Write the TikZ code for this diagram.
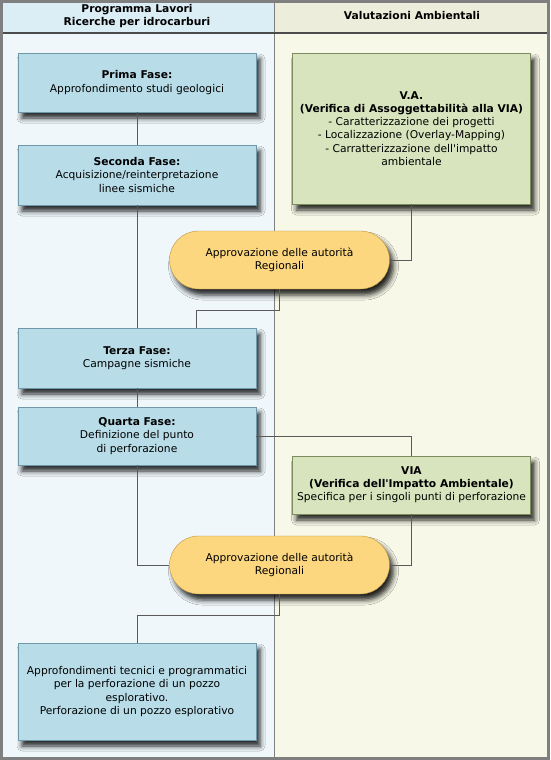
\documentclass[tikz,border=0pt]{standalone}
\usepackage{fontspec}
\setmainfont{DejaVu Sans}
\usetikzlibrary{shapes.misc,shadows.blur}

\definecolor{cornice}{HTML}{7F7F7F}
\definecolor{testasx}{HTML}{DBEEF6}
\definecolor{testadx}{HTML}{ECEEDB}
\definecolor{fondosx}{HTML}{EFF7FB}
\definecolor{fondodx}{HTML}{F7F8E8}
\definecolor{faseblu}{HTML}{B8DDE9}
\definecolor{bordoblu}{HTML}{6F98AB}
\definecolor{verde}{HTML}{D8E4BD}
\definecolor{bordoverde}{HTML}{7C8C5E}
\definecolor{giallo}{HTML}{FCD780}
\definecolor{bordogiallo}{HTML}{B89640}
\definecolor{linea}{HTML}{5A5A5A}

\begin{document}
\begin{tikzpicture}[x=1pt,y=-1pt,
  testo/.style={font=\fontsize{10.7}{13.2}\selectfont,align=center,inner sep=0pt},
  ombra/.style={blur shadow={shadow xshift=4pt,shadow yshift=-6pt,shadow blur radius=5pt,shadow opacity=85}},
  fase/.style={testo,ombra,draw=bordoblu,fill=faseblu,minimum width=238pt},
  va/.style={testo,ombra,draw=bordoverde,fill=verde,minimum width=238pt},
  approvazione/.style={testo,ombra,rounded rectangle,draw=bordogiallo,fill=giallo,minimum width=220pt,minimum height=58pt},
  freccia/.style={draw=linea,line width=0.8pt}]
\useasboundingbox (0,0) rectangle (550,760);
\fill[fondosx] (0,33) rectangle (274,760);
\fill[fondodx] (274,33) rectangle (550,760);
\fill[testasx] (0,0) rectangle (274,33);
\fill[testadx] (274,0) rectangle (550,33);
\draw[cornice,line width=0.8pt] (274,0) -- (274,760);
\draw[cornice!60!black,line width=1.2pt] (0,33) -- (550,33);
\draw[cornice,line width=3pt] (1.5,1.5) rectangle (548.5,758.5);

\node[testo] (lavori) at (137,16) {\textbf{Programma Lavori}\\\textbf{Ricerche per idrocarburi}};
\node[testo] (ambiente) at (412,16) {\textbf{Valutazioni Ambientali}};

\node[fase,minimum height=59pt] (prima) at (137,82.5) {\textbf{Prima Fase:}\\Approfondimento studi geologici};
\node[fase,minimum height=60pt] (seconda) at (137,175) {\textbf{Seconda Fase:}\\Acquisizione/reinterpretazione\\linee sismiche};
\node[va,minimum height=151pt] (va) at (411.5,128.5) {\textbf{V.A.}\\\textbf{(Verifica di Assoggettabilità alla VIA)}\\- Caratterizzazione dei progetti\\- Localizzazione (Overlay-Mapping)\\- Carratterizzazione dell\textquotesingle impatto\\ambientale};
\node[approvazione] (appr1) at (279.5,260) {Approvazione delle autorità\\Regionali};
\node[fase,minimum height=60pt] (terza) at (137,358) {\textbf{Terza Fase:}\\Campagne sismiche};
\node[fase,minimum height=58pt] (quarta) at (137,436) {\textbf{Quarta Fase:}\\Definizione del punto\\di perforazione};
\node[va,minimum height=58pt] (via) at (411.5,485) {\textbf{VIA}\\\textbf{(Verifica dell\textquotesingle Impatto Ambientale)}\\Specifica per i singoli punti di perforazione};
\node[approvazione] (appr2) at (279.5,565) {Approvazione delle autorità\\Regionali};
\node[fase,minimum height=97pt] (pozzo) at (137,691.5) {Approfondimenti tecnici e programmatici\\per la perforazione di un pozzo\\esplorativo.\\ Perforazione di un pozzo esplorativo};

\coordinate (gomito1) at (196,310);
\coordinate (gomito2) at (137,615);

\draw[freccia] (prima) -- (seconda);
\draw[freccia] (seconda) -- (terza);
\draw[freccia] (terza) -- (quarta);
\draw[freccia] (va.south) |- (appr1.east);
\draw[freccia] (appr1.south) |- (gomito1) -- (gomito1 |- terza.north);
\draw[freccia] (quarta.east) -| (via.north);
\draw[freccia] (quarta.south) |- (appr2.west);
\draw[freccia] (via.south) |- (appr2.east);
\draw[freccia] (appr2.south) |- (gomito2) -- (pozzo.north);
\end{tikzpicture}
\end{document}
